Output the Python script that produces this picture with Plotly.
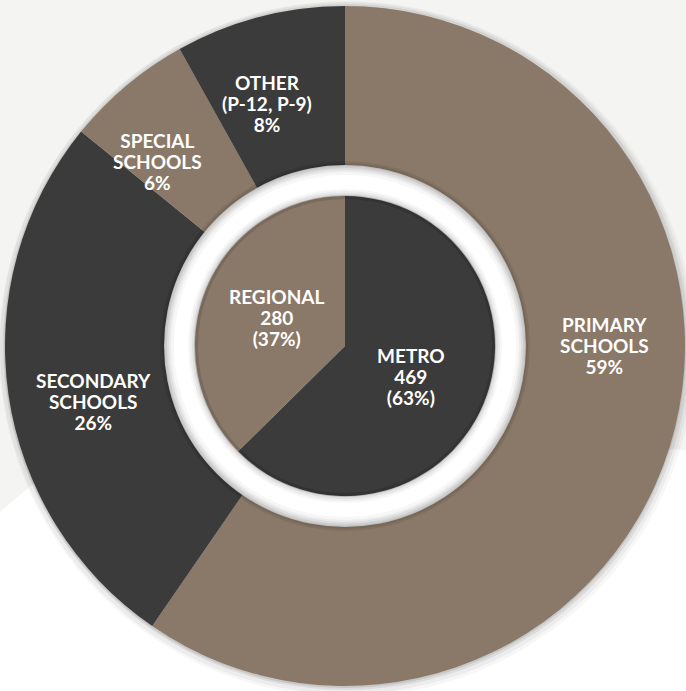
import plotly.graph_objects as go

# ---- data ----
school_types = ["PRIMARY<br>SCHOOLS", "SECONDARY<br>SCHOOLS", "SPECIAL<br>SCHOOLS", "OTHER<br>(P-12, P-9)"]
school_pct = [59, 26, 6, 8]
regions = ["METRO", "REGIONAL"]
region_counts = [469, 280]
region_pct = [63, 37]

# ---- layout / style ----
BROWN = "#8a7968"
DARK = "#3b3b3b"

W, H = 686, 691
CX, CY = 345, 346  # pixel centre
R_OUT = 340
R_RING_OUT = 180
R_IN = 150

FS_EL = 16   # element font size -> line spacing 1.3*16
FS_TXT = 19  # visible glyph size

# label centres (pixels) for outer slices and inner slices
OUTER_LABEL_POS = [(604, 345), (93, 401), (157, 162), (267, 104)]
INNER_LABEL_POS = [(411, 377), (276, 317)]


def dom(r, dx=0, dy=0):
    return dict(x=[(CX + dx - r) / W, (CX + dx + r) / W],
                y=[1 - (CY + dy + r) / H, 1 - (CY + dy - r) / H])


def circ(r, dx=0, dy=0):
    return dict(x0=(CX + dx - r) / W, x1=(CX + dx + r) / W,
                y0=1 - (CY + dy + r) / H, y1=1 - (CY + dy - r) / H)


def lbl(lines):
    return "<br>".join(f"<span style='font-size:{FS_TXT}px'>{l}</span>" for l in lines)


outer_text = [lbl(s.split("<br>") + [f"{p}%"]) for s, p in zip(school_types, school_pct)]
inner_text = [lbl([r, str(c), f"({p}%)"]) for r, c, p in zip(regions, region_counts, region_pct)]

fig = go.Figure()

# light grey background panel (upper-left)
path = (f"M 0 1 L 1 1 L 1 {1 - 450 / H} L {100 / W} {1 - 427 / H} L 0 {1 - 512 / H} Z")
fig.add_shape(type="path", path=path, xref="paper", yref="paper",
              fillcolor="#f4f4f2", line=dict(width=0), layer="below")

# soft drop shadow behind outer donut
for r, a, dx, dy in [(348, 0.03, 2, 3), (346, 0.045, 1, 2), (343, 0.07, 1, 1), (341, 0.09, 0, 1)]:
    fig.add_shape(type="circle", xref="paper", yref="paper", **circ(r, dx, dy),
                  fillcolor=f"rgba(0,0,0,{a})", line=dict(width=0), layer="below")

fig.add_trace(go.Pie(
    values=school_pct, labels=school_types, textinfo="none",
    marker=dict(colors=[BROWN, DARK, BROWN, DARK], line=dict(width=0)),
    hole=R_RING_OUT / R_OUT, sort=False, direction="clockwise", rotation=0,
    domain=dom(R_OUT), hoverinfo="skip", showlegend=False))

# white ring (tube look)
for r_o, r_i, c in [(185, 176, "rgba(0,0,0,0.07)"), (183, 176, "rgba(0,0,0,0.08)"),
                    (181, 149, "#bdbdbd"), (180, 150, "#cdcdcd"), (178, 151, "#dedede"),
                    (176, 153, "#ececec"), (174, 155, "#f7f7f7"), (171, 157, "#ffffff")]:
    fig.add_trace(go.Pie(values=[1], domain=dom(r_o), hole=r_i / r_o,
                         marker=dict(colors=[c], line=dict(width=0)),
                         textinfo="none", hoverinfo="skip", sort=False, showlegend=False))

fig.add_trace(go.Pie(
    values=region_counts, labels=regions, textinfo="none",
    marker=dict(colors=[DARK, BROWN], line=dict(width=0)),
    sort=False, direction="clockwise", rotation=0,
    domain=dom(R_IN), hoverinfo="skip", showlegend=False))

# inner edge shading on the inner pie
fig.add_trace(go.Pie(values=[1], domain=dom(151), hole=147 / 151,
                     marker=dict(colors=["rgba(0,0,0,0.12)"], line=dict(width=0)),
                     textinfo="none", hoverinfo="skip", sort=False, showlegend=False))

for txt, (px, py) in zip(outer_text + inner_text, OUTER_LABEL_POS + INNER_LABEL_POS):
    fig.add_annotation(text=txt, x=px / W, y=1 - py / H, xref="paper", yref="paper",
                       xanchor="center", yanchor="middle", showarrow=False, align="center",
                       font=dict(color="white", size=FS_EL, family="Lato", weight="bold"))

fig.update_layout(
    width=W, height=H, autosize=False,
    margin=dict(l=0, r=0, t=0, b=0),
    paper_bgcolor="white", plot_bgcolor="white",
    showlegend=False,
)

fig.write_html("out.html")
